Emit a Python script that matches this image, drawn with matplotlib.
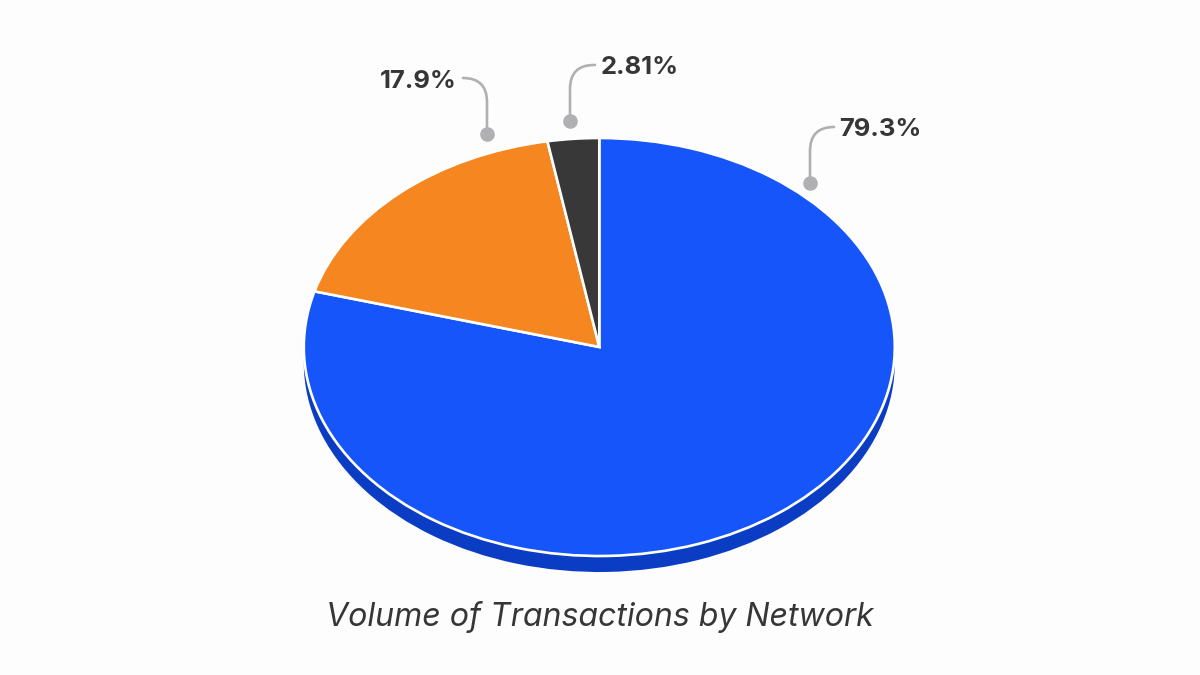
import matplotlib
matplotlib.use("Agg")
import matplotlib.pyplot as plt

plt.rcParams['font.family'] = ['Inter', 'DejaVu Sans']

title = "Volume of Transactions by Network"
shares = [79.3, 17.9, 2.81]
share_labels = ["79.3%", "17.9%", "2.81%"]
top_colors = ["#1655F9", "#F68720", "#383838"]
side_colors = ["#0A3DC4", "#C56A15", "#222222"]

BG = "#FDFDFE"
TEXT = "#363636"
GREY = "#B0B0B2"

W, H = 1200, 675
CX, CY, RX, RY, DEPTH = 599.3, 347, 295.5, 209, 16

fig = plt.figure(figsize=(12, 6.75), dpi=100, facecolor=BG)

ax = fig.add_axes([0, 0, 1, 1])
ax.pie(shares, colors=side_colors, startangle=90, counterclock=False,
       center=(0, -DEPTH / RY), radius=1, wedgeprops=dict(linewidth=0))
ax.pie(shares, colors=top_colors, startangle=90, counterclock=False,
       center=(0, 0), radius=1,
       wedgeprops=dict(edgecolor="white", linewidth=1.9))
ax.set_aspect("auto")
ax.set_xlim(-CX / RX, (W - CX) / RX)
ax.set_ylim(-(H - CY) / RY, CY / RY)
ax.axis("off")

ov = fig.add_axes([0, 0, 1, 1], facecolor="none")
ov.set_xlim(0, W)
ov.set_ylim(H, 0)
ov.axis("off")

# dot (x, y), line end (x, y), label anchor x, label y, ha
callouts = [
    ((810, 183), (834, 127), 839, 129, "left"),
    ((487, 134), (463, 78), 457, 81, "right"),
    ((570, 121), (595, 65), 601, 67, "left"),
]
for (dot, end, tx, ty, ha), label in zip(callouts, share_labels):
    ov.annotate("", xy=dot, xytext=end, xycoords="data", textcoords="data",
                arrowprops=dict(arrowstyle="-", color=GREY, lw=1.9,
                                shrinkA=0, shrinkB=0,
                                connectionstyle="angle,angleA=0,angleB=90,rad=24"))
    ov.plot([dot[0]], [dot[1]], "o", ms=10.5, color=GREY, mew=0)
    ov.text(tx, ty, label, ha=ha, va="center", fontsize=18.4,
            fontweight="bold", color=TEXT)

ov.text(600, 617, title, ha="center", va="center", fontsize=23.1,
        fontstyle="italic", color=TEXT)

fig.savefig("out.png", dpi=100, facecolor=BG)
